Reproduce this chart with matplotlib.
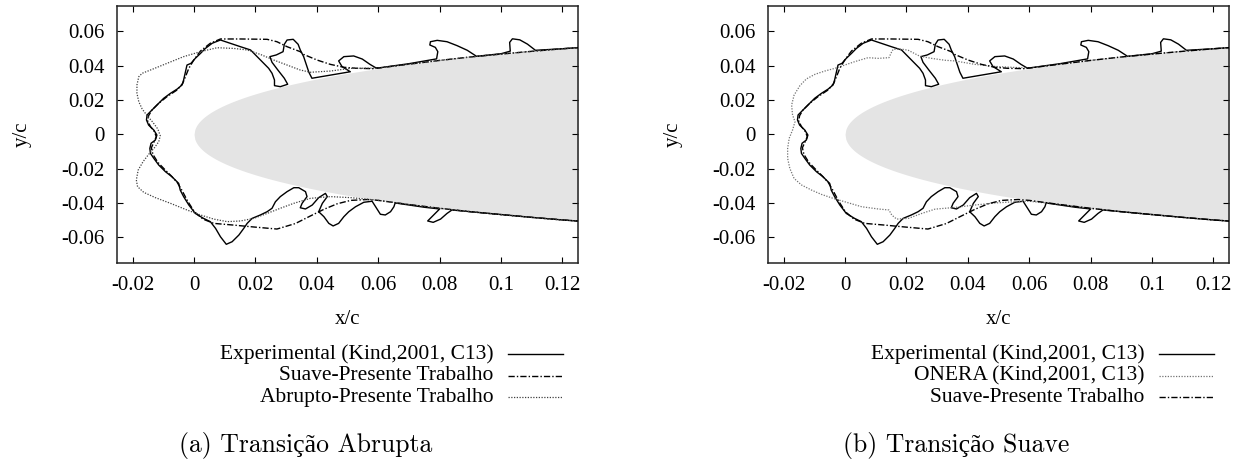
import numpy as np
import matplotlib
matplotlib.use("Agg")
import matplotlib.pyplot as plt
from matplotlib.lines import Line2D

# ---------------------------------------------------------------- data
# Experimental ice shape (Kind, 2001, C13): upper surface (right -> left),
# around the leading edge, then lower surface (left -> right)
exp_x = [0.130, 0.120, 0.1112, 0.1086, 0.1061, 0.1037, 0.1028, 0.1030, 0.100,
         0.092, 0.089, 0.0857, 0.0824, 0.0792, 0.0770, 0.0768, 0.0786, 0.0794, 0.0790,
         0.070, 0.060, 0.0591, 0.0573, 0.0548, 0.0520, 0.0488, 0.0471, 0.0482, 0.0509,
         0.0384, 0.0374, 0.0366, 0.0357, 0.0346, 0.0339, 0.0323, 0.0303, 0.0294, 0.0290,
         0.0268, 0.0247, 0.0254, 0.0273, 0.0294, 0.0305, 0.0281, 0.0262, 0.0262, 0.0254,
         0.0243, 0.0227, 0.0205, 0.0184, 0.0151, 0.0118, 0.0086,
         0.0059, 0.0037, 0.0021, 0.0004, -0.0010, -0.0023, -0.0028, -0.0034, -0.0039,
         -0.0055, -0.0077, -0.0099, -0.0121, -0.0137, -0.0153, -0.0155, -0.0148, -0.0131,
         -0.0121, -0.0126, -0.0140, -0.0144, -0.0142, -0.0131, -0.0115, -0.0093, -0.0072,
         -0.0050, -0.0045, -0.0034, -0.0017, 0.0004, 0.0031, 0.0053,
         0.0070, 0.0086, 0.0105, 0.0124, 0.0146, 0.0162, 0.0173, 0.0189, 0.0216, 0.0238,
         0.0254, 0.0265, 0.0281, 0.0303, 0.0325,
         0.0341, 0.0363, 0.0368, 0.0352, 0.0346, 0.0363, 0.0385, 0.0406, 0.0428, 0.0434,
         0.0418, 0.0406, 0.0423, 0.0439, 0.0453, 0.0471, 0.0488, 0.0504, 0.0526, 0.0553,
         0.0580, 0.0598, 0.0607, 0.0623, 0.0640, 0.0651, 0.0655,
         0.0750, 0.0800, 0.0775, 0.0761, 0.0779, 0.0803, 0.0824, 0.0840,
         0.090, 0.100, 0.110, 0.120, 0.130]
exp_y = [0.0512, 0.0499, 0.0490, 0.0526, 0.0551, 0.0557, 0.0536, 0.0485, 0.0470,
         0.0455, 0.0490, 0.0517, 0.0540, 0.0548, 0.0540, 0.0521, 0.0507, 0.0482, 0.0440,
         0.0412, 0.0387, 0.0389, 0.0408, 0.0439, 0.0457, 0.0453, 0.0428, 0.0395, 0.0365,
         0.0327, 0.0362, 0.0404, 0.0453, 0.0492, 0.0525, 0.0554, 0.0550, 0.0525, 0.0482,
         0.0463, 0.0453, 0.0420, 0.0375, 0.0327, 0.0292, 0.0278, 0.0284, 0.0317, 0.0356,
         0.0385, 0.0414, 0.0453, 0.0492, 0.0511, 0.0531, 0.0550,
         0.0531, 0.0501, 0.0472, 0.0443, 0.0414, 0.0404, 0.0365, 0.0317, 0.0288,
         0.0264, 0.0239, 0.0210, 0.0171, 0.0142, 0.0113, 0.0084, 0.0054, 0.0025,
         -0.0004, -0.0033, -0.0052, -0.0082, -0.0111, -0.0140, -0.0179, -0.0218, -0.0247,
         -0.0286, -0.0325, -0.0363, -0.0412, -0.0461, -0.0490, -0.0509,
         -0.0548, -0.0597, -0.0641, -0.0626, -0.0587, -0.0548, -0.0519, -0.0490, -0.0470, -0.0451,
         -0.0431, -0.0393, -0.0363, -0.0334, -0.0311,
         -0.0311, -0.0334, -0.0363, -0.0402, -0.0428, -0.0435, -0.0412, -0.0369, -0.0344, -0.0363,
         -0.0402, -0.0451, -0.0480, -0.0519, -0.0534, -0.0519, -0.0480, -0.0451, -0.0422, -0.0396,
         -0.0390, -0.0441, -0.0466, -0.0470, -0.0451, -0.0422, -0.0400,
         -0.0425, -0.0435, -0.0480, -0.0505, -0.0513, -0.0494, -0.0461, -0.0441,
         -0.0451, -0.0468, -0.0484, -0.0499, -0.0512]

# Smooth-transition prediction (present work)
suave_x = [0.130, 0.120, 0.110, 0.100, 0.090, 0.080, 0.070, 0.0585, 0.0530, 0.0488,
           0.0444, 0.0401, 0.0357, 0.0346, 0.0303, 0.0270, 0.0238, 0.0151, 0.0086, 0.0053,
           0.0021, -0.0001, -0.0017, -0.0028, -0.0037, -0.0055, -0.0088, -0.0115, -0.0137,
           -0.0148, -0.0151, -0.0142, -0.0129, -0.0123, -0.0131, -0.0139, -0.0134, -0.0118,
           -0.0097, -0.0075, -0.0055, -0.0039, -0.0021, 0.0001, 0.0029, 0.0064, 0.0129,
           0.0194, 0.0270, 0.0330, 0.0380, 0.0423, 0.0466, 0.0510, 0.0564, 0.0600,
           0.070, 0.080, 0.090, 0.100, 0.110, 0.120, 0.130]
suave_y = [0.0512, 0.0499, 0.0484, 0.0468, 0.0451, 0.0431, 0.0409, 0.0383, 0.0385, 0.0391,
           0.0408, 0.0433, 0.0466, 0.0482, 0.0511, 0.0540, 0.0554, 0.0556, 0.0556, 0.0531,
           0.0486, 0.0433, 0.0385, 0.0336, 0.0297, 0.0259, 0.0220, 0.0181, 0.0142,
           0.0109, 0.0078, 0.0045, 0.0016, -0.0014, -0.0047, -0.0078, -0.0117, -0.0163,
           -0.0202, -0.0241, -0.0280, -0.0328, -0.0389, -0.0451, -0.0494, -0.0519, -0.0529,
           -0.0540, -0.0552, -0.0520, -0.0475, -0.0437, -0.0405, -0.0385, -0.0380, -0.0385,
           -0.0409, -0.0431, -0.0451, -0.0468, -0.0484, -0.0499, -0.0512]

# Abrupt-transition prediction (present work)
abrupto_x = [0.130, 0.120, 0.110, 0.100, 0.090, 0.080, 0.070, 0.060, 0.0510, 0.0444,
             0.0379, 0.0346, 0.0303, 0.0260, 0.0216, 0.0173, 0.0129, 0.0075, 0.0021, -0.0034,
             -0.0088, -0.0142, -0.0169, -0.0180, -0.0186, -0.0186, -0.0180, -0.0169, -0.0153,
             -0.0134, -0.0118, -0.0110, -0.0115, -0.0129, -0.0148, -0.0166, -0.0182, -0.0188,
             -0.0184, -0.0164, -0.0126, -0.0077, -0.0023, 0.0021, 0.0064, 0.0108, 0.0151,
             0.0194, 0.0238, 0.0281, 0.0325, 0.0379, 0.0444, 0.0510, 0.0575, 0.0600,
             0.070, 0.080, 0.090, 0.100, 0.110, 0.120, 0.130]
abrupto_y = [0.0512, 0.0499, 0.0484, 0.0468, 0.0451, 0.0431, 0.0409, 0.0386, 0.0385, 0.0369,
             0.0362, 0.0375, 0.0404, 0.0433, 0.0466, 0.0492, 0.0501, 0.0505, 0.0482, 0.0453,
             0.0414, 0.0375, 0.0356, 0.0336, 0.0288, 0.0239, 0.0190, 0.0148, 0.0109,
             0.0070, 0.0031, -0.0008, -0.0043, -0.0078, -0.0117, -0.0159, -0.0208, -0.0266,
             -0.0305, -0.0338, -0.0369, -0.0402, -0.0441, -0.0470, -0.0494, -0.0509, -0.0505,
             -0.0490, -0.0461, -0.0431, -0.0402, -0.0373, -0.0363, -0.0369, -0.0380, -0.0385,
             -0.0409, -0.0431, -0.0451, -0.0468, -0.0484, -0.0499, -0.0512]

# ONERA prediction (Kind, 2001, C13)
onera_x = [0.130, 0.120, 0.110, 0.100, 0.090, 0.080, 0.070, 0.060, 0.0553, 0.0488,
           0.0423, 0.0358, 0.0325, 0.0282, 0.0244, 0.0206, 0.0184, 0.0157, 0.0152, 0.0143,
           0.0108, 0.0075, 0.0032, -0.0001, -0.0033, -0.0066, -0.0098, -0.0126, -0.0147,
           -0.0166, -0.0174, -0.0171, -0.0163, -0.0171, -0.0182, -0.0187, -0.0187, -0.0180,
           -0.0166, -0.0142, -0.0109, -0.0077, -0.0039, -0.0001, 0.0054, 0.0108, 0.0143,
           0.0152, 0.0168, 0.0206, 0.0250, 0.0293, 0.0358, 0.0423, 0.0488, 0.0553, 0.0600,
           0.070, 0.080, 0.090, 0.100, 0.110, 0.120, 0.130]
onera_y = [0.0512, 0.0499, 0.0484, 0.0468, 0.0451, 0.0431, 0.0409, 0.0387, 0.0390, 0.0396,
           0.0408, 0.0428, 0.0432, 0.0443, 0.0455, 0.0490, 0.0497, 0.0496, 0.0482, 0.0447,
           0.0443, 0.0447, 0.0424, 0.0404, 0.0385, 0.0369, 0.0350, 0.0323, 0.0284,
           0.0229, 0.0171, 0.0113, 0.0074, 0.0025, -0.0023, -0.0082, -0.0140, -0.0198,
           -0.0257, -0.0295, -0.0325, -0.0350, -0.0373, -0.0393, -0.0422, -0.0435, -0.0441,
           -0.0470, -0.0494, -0.0490, -0.0461, -0.0436, -0.0426, -0.0412, -0.0400, -0.0393, -0.0390,
           -0.0409, -0.0431, -0.0451, -0.0468, -0.0484, -0.0499, -0.0512]

# NACA 0012 profile (clean airfoil, leading-edge region)
thickness = 0.12
naca_coef = [0.2969, -0.1260, -0.3516, 0.2843, -0.1015]

x_ticks = [-0.02, 0, 0.02, 0.04, 0.06, 0.08, 0.1, 0.12]
y_ticks = [-0.06, -0.04, -0.02, 0, 0.02, 0.04, 0.06]

panels = [
    dict(curves=[("Experimental (Kind,2001, C13)", exp_x, exp_y, "solid"),
                 ("Suave-Presente Trabalho", suave_x, suave_y, "dashdot"),
                 ("Abrupto-Presente Trabalho", abrupto_x, abrupto_y, "dotted")],
         caption="(a) Transição Abrupta"),
    dict(curves=[("Experimental (Kind,2001, C13)", exp_x, exp_y, "solid"),
                 ("ONERA (Kind,2001, C13)", onera_x, onera_y, "dotted_light"),
                 ("Suave-Presente Trabalho", suave_x, suave_y, "dashdot")],
         caption="(b) Transição Suave"),
]

# ---------------------------------------------------------------- style
SERIF = ["Liberation Serif", "DejaVu Serif"]
CAPTION_FONT = ["cmr10", "Liberation Serif"]
FS = 15
FS_LEG = 15.5
styles = {
    "solid": dict(color="black", lw=1.0, ls="-"),
    "dashdot": dict(color="black", lw=1.0, ls=(0, (4.5, 1.5, 1.0, 1.5))),
    "dotted": dict(color="0.25", lw=0.9, ls=(0, (1.0, 1.2))),
    "dotted_light": dict(color="0.45", lw=0.9, ls=(0, (1.0, 1.2))),
}


def fmt(v, _pos=None):
    if abs(v) < 1e-12:
        return "0"
    return "%g" % round(v, 6)


W, H = 1245, 461
fig = plt.figure(figsize=(W / 100, H / 100), dpi=100)

ax_left_px = [117.3, 768.3]
ax_w_px = 460.5
ax_top_px, ax_bot_px = 5.7, 263.0

xs = np.linspace(0, 0.14, 600)
yt = 5 * thickness * (naca_coef[0] * np.sqrt(xs) + naca_coef[1] * xs
                      + naca_coef[2] * xs ** 2 + naca_coef[3] * xs ** 3
                      + naca_coef[4] * xs ** 4)

for i, p in enumerate(panels):
    L = ax_left_px[i]
    ax = fig.add_axes([L / W, 1 - ax_bot_px / H, ax_w_px / W,
                       (ax_bot_px - ax_top_px) / H])
    ax.fill_between(xs, -yt, yt, color="#e4e4e4", lw=0, zorder=1)
    for label, cx, cy, st in p["curves"]:
        ax.plot(cx, cy, zorder=3, **styles[st])
    ax.set_xlim(-0.025, 0.125)
    ax.set_ylim(-0.075, 0.075)
    ax.set_xticks(x_ticks)
    ax.set_yticks(y_ticks)
    ax.xaxis.set_major_formatter(plt.FuncFormatter(fmt))
    ax.yaxis.set_major_formatter(plt.FuncFormatter(fmt))
    ax.tick_params(direction="in", length=4.5, width=0.8, top=True, right=True,
                   labelsize=FS, pad=9, color="black")
    for lab in ax.get_xticklabels() + ax.get_yticklabels():
        lab.set_family(SERIF)
    for s in ax.spines.values():
        s.set_linewidth(1.1)
        s.set_color("#222222")

    cx_px = L + ax_w_px / 2
    fig.text(cx_px / W, 1 - 319 / H, "x/c", ha="center", va="center",
             family=SERIF, fontsize=FS)
    fig.text((L - 95.5) / W, 1 - 134 / H, "y/c", ha="center", va="center",
             rotation=90, family=SERIF, fontsize=FS)

    # legend block below the axes
    text_right = L + 376
    line_x0, line_x1 = L + 391, L + 446
    for k, (label, cx, cy, st) in enumerate(p["curves"]):
        yy = 1 - (354 + 21.5 * k) / H
        fig.text(text_right / W, yy, label, ha="right", va="center",
                 family=SERIF, fontsize=FS_LEG)
        fig.add_artist(Line2D([line_x0 / W, line_x1 / W], [yy, yy],
                              transform=fig.transFigure, **styles[st]))

    fig.text((L + 188) / W, 1 - 452 / H, p["caption"], ha="center",
             va="baseline", family=CAPTION_FONT, fontsize=18.5)

fig.savefig("out.png", dpi=100)
